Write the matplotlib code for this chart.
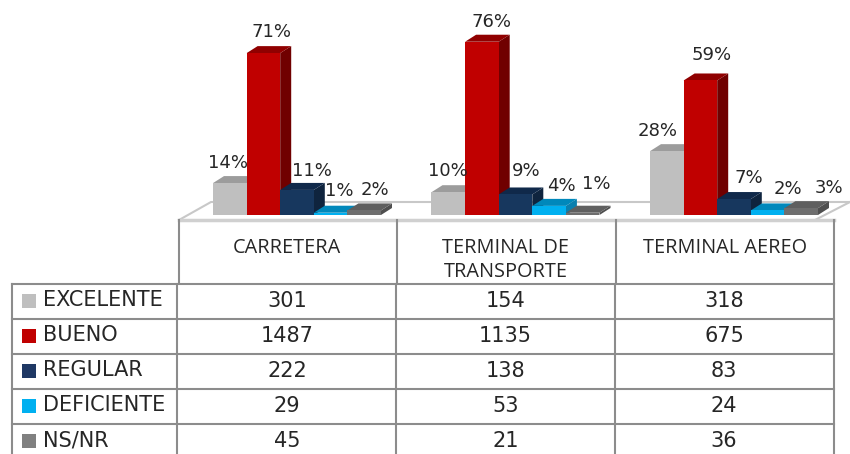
import matplotlib
matplotlib.use("Agg")
import matplotlib.pyplot as plt
from matplotlib.patches import Polygon, Rectangle

# ---- data ----
categories = ["CARRETERA", "TERMINAL DE\nTRANSPORTE", "TERMINAL AEREO"]
series = ["EXCELENTE", "BUENO", "REGULAR", "DEFICIENTE", "NS/NR"]
excelente_pct = [14, 10, 28]
bueno_pct = [71, 76, 59]
regular_pct = [11, 9, 7]
deficiente_pct = [1, 4, 2]
nsnr_pct = [2, 1, 3]
excelente_n = [301, 154, 318]
bueno_n = [1487, 1135, 675]
regular_n = [222, 138, 83]
deficiente_n = [29, 53, 24]
nsnr_n = [45, 21, 36]

pct = [excelente_pct, bueno_pct, regular_pct, deficiente_pct, nsnr_pct]
counts = [excelente_n, bueno_n, regular_n, deficiente_n, nsnr_n]

# ---- style ----
front = ["#BFBFBF", "#C00000", "#17375E", "#00B0F0", "#6E6E6E"]
side = ["#A6A6A6", "#700000", "#0F243E", "#0A7FAE", "#4F4F4F"]
top = ["#9C9C9C", "#900000", "#10294A", "#0088BB", "#5F5F5F"]
legend_col = ["#BFBFBF", "#C00000", "#1F3864", "#00B0F0", "#808080"]
line = "#8C8C8C"
textc = "#262626"

W, H = 850, 454
fig = plt.figure(figsize=(8.5, 4.54), dpi=100, facecolor="white")

# pixel-space overlay for table grid and floor
grid = fig.add_axes([0, 0, 1, 1], zorder=1)
grid.set_xlim(0, W); grid.set_ylim(H, 0); grid.axis("off")

# value axes for bars
base_px, px_per_pct = 215.0, 2.28
cat0_px, cat_step = 297.0, 218.5
ax = fig.add_axes([0, 0, 1, 1], zorder=2)
ax.patch.set_alpha(0)
ax.set_xlim(-cat0_px / cat_step, (W - cat0_px) / cat_step)
ax.set_ylim(-(H - base_px) / px_per_pct, base_px / px_per_pct)
ax.axis("off")

bw = 33.6 / cat_step
dx, dy = 11 / cat_step, 7 / px_per_pct

# floor
grid.plot([179, 211, 850], [220, 202, 202], color="#C8C8C8", lw=1.5)
grid.plot([815, 850], [220, 202], color="#C8C8C8", lw=1.5)
grid.plot([179, 834], [220, 220], color="#D0D0D0", lw=2.5)

# bars
for s in range(5):
    for c in range(3):
        v = pct[s][c]
        x0 = c + (s - 2.5) * bw
        x1 = x0 + bw
        ax.add_patch(Polygon([(x1, 0), (x1 + dx, dy), (x1 + dx, v + dy), (x1, v)],
                             fc=side[s], ec="none", zorder=3 + s))
        ax.add_patch(Polygon([(x0, v), (x1, v), (x1 + dx, v + dy), (x0 + dx, v + dy)],
                             fc=top[s], ec="none", zorder=3 + s))
        ax.add_patch(Rectangle((x0, 0), bw, v, fc=front[s], ec="none", zorder=3 + s))

# percentage labels; nudges are layout in pixels from the bar's top
nudge_x = [[-2, 8, 15, 9, 11], [0, 10, 11, 12, 14], [-9, 11, 15, 20, 28]]
nudge_y = [[20, 21, 19, 22, 20], [21, 20, 23, 20, 29], [20, 25, 21, 21, 20]]
for c in range(3):
    for s in range(5):
        v = pct[s][c]
        xc = c + (s - 2) * bw
        ax.annotate(f"{v}%", (xc, v), xytext=(nudge_x[c][s], nudge_y[c][s]),
                    textcoords="offset pixels", ha="center", va="center",
                    fontsize=13, color=textc, zorder=20, family="DejaVu Sans")

# table grid
col_x = [179, 397, 616, 834]
for x in col_x:
    grid.plot([x, x], [220, 283], color=line, lw=1.5)
row_y = [284, 319, 354, 389, 424]
for y in row_y:
    grid.plot([12, 834], [y, y], color=line, lw=1.5)
for x in [12, 177, 396, 615, 834]:
    grid.plot([x, x], [284, H], color=line, lw=1.5)

# header labels
for c, name in enumerate(categories):
    xc = (col_x[c] + col_x[c + 1]) / 2
    for k, part in enumerate(name.split("\n")):
        t = grid.text(xc - 1 + (c == 2) * 1, 248 + k * 24, part, ha="center", va="center",
                      fontsize=14.3, family="Open Sans", color=textc)

# table body
row_mid = [301, 336, 371, 406, 441]
for s, name in enumerate(series):
    y = row_mid[s]
    grid.add_patch(Rectangle((22, y - 7), 14, 14, fc=legend_col[s], ec="none"))
    grid.text(43, y - 1, name, ha="left", va="center", fontsize=15,
              color=textc, family="DejaVu Sans")
    for c in range(3):
        xc = (col_x[c] + col_x[c + 1]) / 2 - 1
        grid.text(xc, y, str(counts[s][c]), ha="center", va="center", fontsize=15,
                  color=textc, family="DejaVu Sans")

fig.savefig("out.png", dpi=100, facecolor="white")
